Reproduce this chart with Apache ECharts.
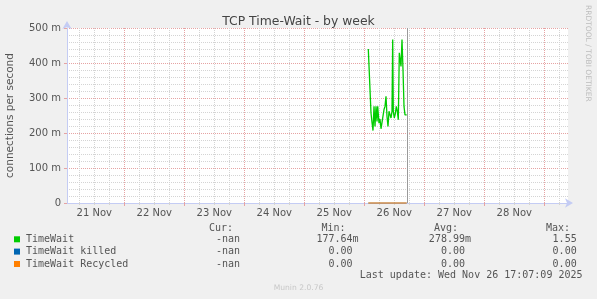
<!DOCTYPE html>
<html><head><meta charset="utf-8">
<script src="https://cdn.jsdelivr.net/npm/echarts@6/dist/echarts.min.js"></script>
<style>html,body{margin:0;padding:0;background:#f0f0f0;}#c{width:597px;height:299px;}</style>
</head><body><div id="c"></div>
<script>
// ---- texts ----
const chartTitle = 'TCP Time-Wait - by week';
const yAxisName = 'connections per second';
const sideText = 'RRDTOOL / TOBI OETIKER';
const lastUpdateText = 'Last update: Wed Nov 26 17:07:09 2025';
const footerText = 'Munin 2.0.76';

// ---- x axis (hours since 21 Nov 00:00) ----
const xMin = 1.08;
const xMax = 201.48;
const dayBoundaryHours = [24, 48, 72, 96, 120, 144, 168, 192];
const minorHours = [6, 12, 18, 30, 36, 42, 54, 60, 66, 78, 84, 90, 102, 108, 114, 126, 132, 138, 150, 156, 162, 174, 180, 186, 198];
const xLabelHours = [12, 36, 60, 84, 108, 132, 156, 180];
const xLabels = ['21 Nov', '22 Nov', '23 Nov', '24 Nov', '25 Nov', '26 Nov', '27 Nov', '28 Nov'];
const lastUpdateHour = 137.12;

// ---- y axis ----
const yTickValues = [0, 0.1, 0.2, 0.3, 0.4, 0.5];
const yTickLabels = ['0', '100 m', '200 m', '300 m', '400 m', '500 m'];

// ---- series ----
const timeWaitHours = [121.6, 122.4, 122.68, 123.08, 123.48, 123.88, 124.28, 124.68, 125.08, 125.36, 125.88, 126.28, 126.68, 127.08, 127.48, 127.88, 128.28, 128.68, 129.08, 129.48, 129.88, 130.28, 130.68, 131.08, 131.36, 131.6, 132.0, 132.4, 132.8, 133.2, 133.6, 134.0, 134.4, 134.68, 135.08, 135.48, 135.88, 136.28, 136.96];
const timeWait = [0.440, 0.440, 0.257, 0.230, 0.207, 0.276, 0.219, 0.276, 0.233, 0.276, 0.228, 0.240, 0.212, 0.215, 0.210, 0.267, 0.276, 0.305, 0.247, 0.219, 0.262, 0.262, 0.243, 0.262, 0.467, 0.262, 0.243, 0.255, 0.276, 0.262, 0.238, 0.429, 0.429, 0.390, 0.467, 0.381, 0.276, 0.252, 0.252];
const zeroHours = [121.6, 136.96];
const timeWaitKilled = [0, 0];
const timeWaitRecycled = [0, 0];

// ---- legend table ----
const legendNames = ['TimeWait', 'TimeWait killed', 'TimeWait Recycled'];
const legendColors = ['#00cc00', '#0066b3', '#ff8000'];
const colHeaders = ['Cur:', 'Min:', 'Avg:', 'Max:'];
const curValues = ['-nan', '-nan', '-nan'];
const minValues = ['177.64m', '0.00 ', '0.00 '];
const avgValues = ['278.99m', '0.00 ', '0.00 '];
const maxValues = ['1.55 ', '0.00 ', '0.00 '];

// ---- layout / style ----
const FONT = 'DejaVu Sans';
const MONO = 'DejaVu Sans Mono';
const TXT = '#555';
const AXIS_COLOR = '#c4ccf4';
const MAJOR = '#e6a3a3';
const MINOR = '#d4d4d4';
const headerRight = [233, 345.6, 458, 570];
const valueRight = [240, 358.6, 471, 582.7];
const rowY = [239.3, 251.6, 264];

const chart = echarts.init(document.getElementById('c'), null, {renderer: 'canvas'});

function pairs(xs, ys) { return xs.map((x, i) => [x, ys[i]]); }

const graphics = [];
graphics.push({type: 'text', x: 588, y: 5, rotation: -Math.PI / 2,
  style: {text: sideText, font: '7.5px "' + FONT + '"', fill: '#bdbdbd', align: 'left', verticalAlign: 'middle'}});
colHeaders.forEach((h, i) => graphics.push({type: 'text', x: headerRight[i], y: 228.3,
  style: {text: h, font: '10px "' + MONO + '"', fill: TXT, align: 'right', verticalAlign: 'middle'}}));
legendNames.forEach((n, r) => {
  graphics.push({type: 'rect', shape: {x: 14, y: rowY[r] - 3, width: 6, height: 6}, style: {fill: legendColors[r]}});
  graphics.push({type: 'text', x: 26, y: rowY[r], style: {text: n, font: '10px "' + MONO + '"', fill: TXT, align: 'left', verticalAlign: 'middle'}});
  [curValues, minValues, avgValues, maxValues].forEach((col, c) => {
    graphics.push({type: 'text', x: valueRight[c], y: rowY[r],
      style: {text: col[r], font: '10px "' + MONO + '"', fill: TXT, align: 'right', verticalAlign: 'middle'}});
  });
});
graphics.push({type: 'text', x: 582.5, y: 275.8, style: {text: lastUpdateText, font: '10px "' + MONO + '"', fill: TXT, align: 'right', verticalAlign: 'middle'}});
graphics.push({type: 'text', x: 298.5, y: 288.3, style: {text: footerText, font: '7.6px "' + FONT + '"', fill: '#c8c8c8', align: 'center', verticalAlign: 'middle'}});

const baseX = {type: 'value', min: xMin, max: xMax, position: 'bottom'};

const option = {
  backgroundColor: '#f0f0f0',
  animation: false,
  textStyle: {fontFamily: FONT},
  title: {text: chartTitle, left: 'center', top: 11,
    textStyle: {fontFamily: FONT, fontSize: 12.4, fontWeight: 'normal', color: '#444'}},
  grid: {left: 67, right: 29, top: 28, bottom: 96, show: true, backgroundColor: '#ffffff', borderWidth: 0, containLabel: false, outerBoundsMode: 'none'},
  xAxis: [
    Object.assign({}, baseX, {
      axisLine: {show: true, onZero: false, lineStyle: {color: AXIS_COLOR, width: 1}, symbol: ['none', 'arrow'], symbolSize: [7, 8], symbolOffset: [0, 5]},
      axisTick: {show: true, length: 3, customValues: dayBoundaryHours, lineStyle: {color: MAJOR, width: 1}},
      axisLabel: {show: false},
      splitLine: {show: true, lineStyle: {color: MAJOR, width: 1, type: [1, 1]}}
    }),
    Object.assign({}, baseX, {
      axisLine: {show: false},
      axisTick: {show: true, length: 2, customValues: minorHours, lineStyle: {color: MINOR, width: 1}},
      axisLabel: {show: false},
      splitLine: {show: true, lineStyle: {color: MINOR, width: 1, type: [1, 1]}}
    }),
    Object.assign({}, baseX, {
      axisLine: {show: false},
      axisTick: {show: false},
      splitLine: {show: false},
      axisLabel: {show: true, customValues: xLabelHours, margin: 5, color: TXT, fontSize: 10, fontFamily: FONT,
        formatter: v => xLabels[xLabelHours.indexOf(v)]}
    })
  ],
  yAxis: {
    type: 'value', min: yTickValues[0], max: yTickValues[yTickValues.length - 1], interval: 0.1,
    name: yAxisName, nameLocation: 'middle', nameGap: 51,
    nameTextStyle: {color: TXT, fontSize: 10.5, fontFamily: FONT},
    axisLine: {show: true, lineStyle: {color: AXIS_COLOR, width: 1}, symbol: ['none', 'arrow'], symbolSize: [7, 8], symbolOffset: [0, 7]},
    axisTick: {show: true, length: 3, lineStyle: {color: MAJOR}},
    axisLabel: {color: TXT, fontSize: 10, fontFamily: FONT, margin: 6,
      formatter: v => yTickLabels[yTickValues.findIndex(t => Math.abs(t - v) < 1e-9)]},
    splitLine: {show: true, lineStyle: {color: MAJOR, width: 1, type: [1, 1]}},
    minorTick: {show: false, splitNumber: 5},
    minorSplitLine: {show: true, lineStyle: {color: MINOR, width: 1, type: [1, 1]}}
  },
  series: [
    {name: legendNames[0], type: 'line', xAxisIndex: 0, data: pairs(timeWaitHours, timeWait), showSymbol: false, symbol: 'none', clip: false,
      lineStyle: {color: legendColors[0], width: 1.3}, itemStyle: {color: legendColors[0]},
      markLine: {silent: true, symbol: 'none', label: {show: false}, lineStyle: {color: '#9a9a9a', width: 1, type: 'solid'}, data: [{xAxis: lastUpdateHour}]}},
    {name: legendNames[1], type: 'line', xAxisIndex: 0, data: pairs(zeroHours, timeWaitKilled), showSymbol: false, symbol: 'none', clip: false,
      lineStyle: {color: legendColors[1], width: 0.6}},
    {name: legendNames[2], type: 'line', xAxisIndex: 0, data: pairs(zeroHours, timeWaitRecycled), showSymbol: false, symbol: 'none', clip: false,
      lineStyle: {color: legendColors[2], width: 1.2}}
  ],
  graphic: graphics
};
chart.setOption(option);
</script></body></html>
